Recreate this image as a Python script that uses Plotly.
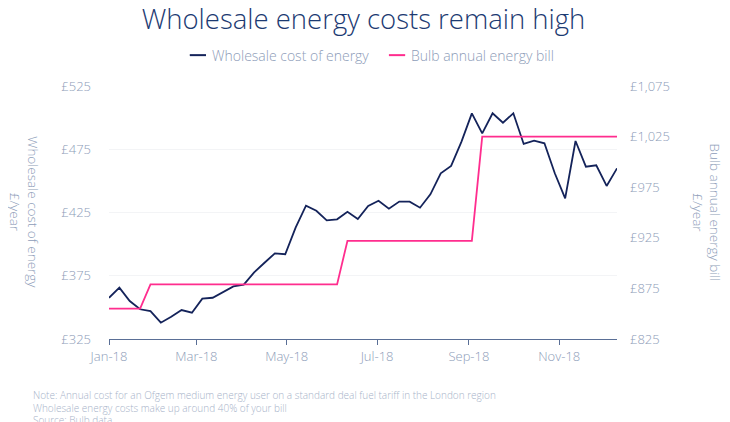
import pandas as pd
import plotly.graph_objs as go

# weekly points, Mondays from 1 Jan 2018
weeks = pd.date_range("2018-01-01", periods=50, freq="7D")

wholesale_cost = [
    357.6, 365.6, 355.0, 348.5, 347.0, 337.9, 342.6, 347.9, 345.8, 356.9,
    357.6, 362.2, 366.6, 368.0, 377.6, 385.3, 392.7, 392.0, 413.0, 430.4,
    426.4, 418.8, 419.6, 425.6, 419.9, 430.1, 434.3, 428.0, 433.6, 433.6,
    428.8, 439.4, 456.0, 461.8, 481.0, 503.4, 487.6, 503.4, 496.0, 503.4,
    479.2, 481.8, 479.7, 456.0, 436.2, 481.5, 461.2, 462.3, 446.0, 459.9,
]

bulb_bill = [855] * 4 + [879] * 19 + [922] * 13 + [1025] * 14

left_ticks = [325, 375, 425, 475, 525]
right_ticks = [825, 875, 925, 975, 1025, 1075]

series_names = ["Wholesale cost of energy", "Bulb annual energy bill"]

notes = [
    "Note: Annual cost for an Ofgem medium energy user on a standard deal fuel tariff in the London region",
    "Wholesale energy costs make up around 40% of your bill",
    "Source: Bulb data",
]

NAVY = "#14235a"
PINK = "#ff2d8e"
LABEL = "#8d9cb8"
FONT = "Open Sans"
thin = {"color": LABEL, "weight": 300}

fig = go.Figure()

fig.add_trace(go.Scatter(
    x=weeks, y=wholesale_cost, mode="lines", name=series_names[0],
    line={"color": NAVY, "width": 1.8}, yaxis="y"
))
fig.add_trace(go.Scatter(
    x=weeks, y=bulb_bill, mode="lines", name=series_names[1],
    line={"color": PINK, "width": 1.8}, yaxis="y2"
))

# page body adds an 8px offset, so the figure is 8px smaller than the window
fig.update_layout(
    width=722, height=414,
    margin={"l": 101, "r": 113, "t": 78, "b": 83},
    plot_bgcolor="white", paper_bgcolor="white",
    font={"family": FONT, "color": LABEL, "size": 13},
    title={"text": "Wholesale energy costs remain high", "x": 0.4924, "xanchor": "center",
           "y": 0.972, "yanchor": "middle",
           "font": {"family": FONT, "size": 27.5, "color": "#1c3a72", "weight": 300}},
    showlegend=False,
)

fig.update_xaxes(
    range=[weeks[0], weeks[-1]], dtick="M2", tick0="2018-01-01", tickformat="%b-%y",
    showline=True, linecolor="#5a6f96", linewidth=1.2,
    ticks="outside", ticklen=5, tickcolor="#5a6f96",
    showgrid=False, zeroline=False,
    tickfont={"size": 13, **thin},
)

fig.update_layout(
    yaxis={"range": [325, 525], "tickvals": left_ticks,
           "ticktext": [f"£{v}" for v in left_ticks],
           "showgrid": True, "gridcolor": "#f3f4f6", "zeroline": False,
           "showline": False, "ticks": "", "ticklabelstandoff": 17,
           "tickfont": {"size": 13, **thin}},
    yaxis2={"range": [825, 1075], "tickvals": right_ticks,
            "ticktext": [f"£{v:,}" for v in right_ticks],
            "overlaying": "y", "side": "right", "showgrid": False,
            "zeroline": False, "showline": False, "ticks": "", "ticklabelstandoff": 12,
            "tickfont": {"size": 13, **thin}},
)

# legend drawn by hand: short line swatch + label
legend_x = [0.159, 0.551]
for name, color, lx in zip(series_names, [NAVY, PINK], legend_x):
    fig.add_shape(type="line", xref="paper", yref="paper",
                  x0=lx, x1=lx + 0.032, y0=1.122, y1=1.122,
                  line={"color": color, "width": 2})
    fig.add_annotation(text=name, xref="paper", yref="paper", x=lx + 0.039, y=1.122,
                       xanchor="left", yanchor="middle", showarrow=False,
                       font={"size": 14, **thin})

fig.add_annotation(
    text="Wholesale cost of energy<br>£/year", textangle=90,
    xref="paper", yref="paper", x=-0.167, y=0.5, xanchor="center", yanchor="middle",
    showarrow=False, font={"size": 13.5, **thin},
)
fig.add_annotation(
    text="Bulb annual energy bill<br>£/year", textangle=90,
    xref="paper", yref="paper", x=1.177, y=0.5, xanchor="center", yanchor="middle",
    showarrow=False, font={"size": 13.5, **thin},
)

for i, line in enumerate(notes):
    fig.add_annotation(
        text=line, xref="paper", yref="paper", x=-0.1535, y=-0.221 - i * 0.05,
        xanchor="left", yanchor="middle", showarrow=False,
        font={"size": 10, "color": "#a7b3c9", "weight": 300},
    )

fig.write_html("out.html")
